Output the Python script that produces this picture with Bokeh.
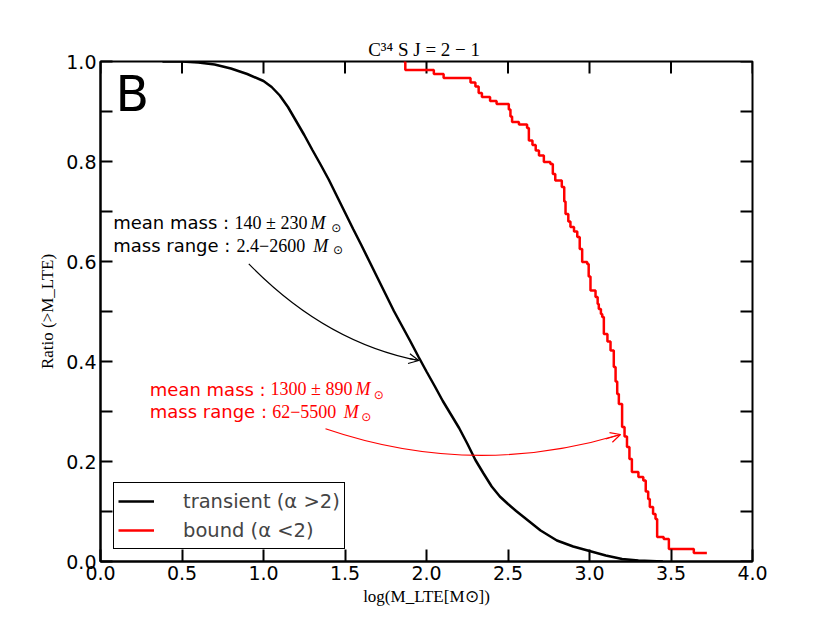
from bokeh.plotting import figure
from bokeh.models import (Range1d, FixedTicker, Legend, LegendItem, Label, Arrow,
                          OpenHead, PrintfTickFormatter, Title)
from bokeh.embed import file_html
from bokeh.resources import INLINE

# ---------------- data ----------------
black_x = [0.38, 0.50, 0.60, 0.70, 0.80, 0.90, 1.00, 1.05, 1.10, 1.15, 1.20, 1.25,
           1.30, 1.35, 1.40, 1.45, 1.50, 1.55, 1.60, 1.65, 1.70, 1.75, 1.80, 1.85,
           1.90, 1.95, 2.00, 2.05, 2.10, 2.15, 2.20, 2.25, 2.30, 2.35, 2.40, 2.45,
           2.50, 2.55, 2.60, 2.70, 2.80, 2.90, 3.00, 3.10, 3.20, 3.30, 3.45]
black_y = [1.000, 1.000, 0.998, 0.994, 0.986, 0.975, 0.961, 0.949, 0.932, 0.909, 0.881, 0.853,
           0.823, 0.794, 0.764, 0.731, 0.698, 0.665, 0.633, 0.600, 0.567, 0.534, 0.501, 0.471,
           0.441, 0.410, 0.380, 0.351, 0.321, 0.294, 0.267, 0.236, 0.203, 0.176, 0.150, 0.130,
           0.115, 0.101, 0.088, 0.062, 0.042, 0.030, 0.021, 0.012, 0.005, 0.002, 0.000]

red_x = [1.860, 1.870, 2.045, 2.105, 2.270, 2.300, 2.320, 2.340, 2.390, 2.430,
         2.505, 2.515, 2.525, 2.567, 2.617, 2.628, 2.650, 2.670, 2.690, 2.720,
         2.760, 2.775, 2.790, 2.830, 2.845, 2.853, 2.870, 2.883, 2.905, 2.925,
         2.940, 2.955, 2.986, 2.995, 3.006, 3.037, 3.050, 3.057, 3.070, 3.078,
         3.088, 3.110, 3.129, 3.149, 3.160, 3.170, 3.180, 3.200, 3.215, 3.230,
         3.245, 3.260, 3.300, 3.330, 3.345, 3.360, 3.370, 3.390, 3.405, 3.415,
         3.455, 3.487, 3.640, 3.720]
red_y = [1.000, 0.983, 0.975, 0.967, 0.958, 0.950, 0.937, 0.929, 0.921, 0.915,
         0.904, 0.890, 0.879, 0.874, 0.867, 0.842, 0.833, 0.822, 0.812, 0.799,
         0.795, 0.775, 0.762, 0.749, 0.720, 0.695, 0.680, 0.669, 0.660, 0.649,
         0.625, 0.599, 0.595, 0.570, 0.542, 0.529, 0.515, 0.505, 0.495, 0.489,
         0.455, 0.440, 0.422, 0.389, 0.360, 0.335, 0.315, 0.269, 0.250, 0.229,
         0.205, 0.179, 0.169, 0.162, 0.140, 0.125, 0.109, 0.095, 0.085, 0.049,
         0.045, 0.025, 0.017, 0.017]

x_ticks = [0.0, 0.5, 1.0, 1.5, 2.0, 2.5, 3.0, 3.5, 4.0]
y_ticks = [0.0, 0.2, 0.4, 0.6, 0.8, 1.0]
y_minor_ticks = [0.1, 0.3, 0.5, 0.7, 0.9]
series_names = ["transient (\u03b1 >2)", "bound (\u03b1 <2)"]
series_colors = ["#000000", "#ff0000"]
panel_letter = "B"
title_text = "C\u00b3\u2074 S  J = 2 \u2212 1"
x_label = "log(M_LTE[M\u2299])"
y_label = "Ratio (>M_LTE)"
black_note = [("mean mass :", "140 \u00b1 230"), ("mass range :", "2.4\u22122600")]
red_note = [("mean mass :", "1300 \u00b1 890"), ("mass range :", "62\u22125500")]

# ---------------- layout helpers (reference pixel -> data) ----------------
FX0, FX1, FY0, FY1 = 100.0, 752.0, 561.0, 61.0
def X(px):
    return (px - FX0) / (FX1 - FX0) * 4.0
def Y(py):
    return (FY0 - py) / (FY0 - FY1) * 1.0

W, H = 822, 615
p = figure(width=W, height=H, x_range=Range1d(0, 4), y_range=Range1d(0, 1),
           output_backend="svg", toolbar_location=None,
           min_border_left=100, min_border_right=W - 752,
           min_border_top=61, min_border_bottom=H - 561)
p.xgrid.visible = False
p.ygrid.visible = False
p.outline_line_color = "black"
p.outline_line_width = 2
p.background_fill_color = "white"
p.border_fill_color = "white"

SERIF = "Liberation Serif"

def style_axis(ax):
    ax.axis_line_width = 2
    ax.axis_line_color = "black"
    ax.major_tick_in = 12
    ax.major_tick_out = 0
    ax.minor_tick_in = 12
    ax.minor_tick_out = 0
    ax.major_tick_line_width = 2
    ax.minor_tick_line_width = 2
    ax.major_tick_line_color = "black"
    ax.minor_tick_line_color = "black"
    ax.major_label_text_font = "DejaVu Sans"
    ax.major_label_text_color = "black"
    ax.major_label_text_font_size = "19px"
    ax.major_label_standoff = 4
    ax.formatter = PrintfTickFormatter(format="%.1f")
    ax.axis_label_text_font = SERIF
    ax.axis_label_text_font_size = "17px"
    ax.axis_label_text_font_style = "normal"
    ax.axis_label_text_color = "black"

p.xaxis[0].ticker = FixedTicker(ticks=x_ticks, minor_ticks=[])
p.yaxis[0].ticker = FixedTicker(ticks=y_ticks, minor_ticks=y_minor_ticks)
style_axis(p.xaxis[0])
style_axis(p.yaxis[0])
p.xaxis[0].axis_label = x_label
p.yaxis[0].axis_label = y_label
p.xaxis[0].axis_label_standoff = 4
p.yaxis[0].axis_label_standoff = 6

p.add_layout(Title(text=title_text, align="center", text_font=SERIF, text_font_size="19px",
                   text_font_style="normal", text_color="black", standoff=4), "above")

# inward ticks on top and right edges (mirroring the bottom / left tickers)
tick_len_y = 12.0 / (FY0 - FY1)
tick_len_x = 12.0 / (FX1 - FX0) * 4.0
all_y = y_ticks + y_minor_ticks
p.segment(x0=x_ticks, y0=[1.0] * len(x_ticks), x1=x_ticks, y1=[1.0 - tick_len_y] * len(x_ticks),
          line_color="black", line_width=2)
p.segment(x0=[4.0] * len(all_y), y0=all_y, x1=[4.0 - tick_len_x] * len(all_y), y1=all_y,
          line_color="black", line_width=2)

# ---------------- curves ----------------
r_black = p.line(black_x, black_y, line_color=series_colors[0], line_width=2.5)
r_red = p.step(red_x, red_y, mode="after", line_color=series_colors[1], line_width=2.5)

legend = Legend(items=[LegendItem(label=series_names[0], renderers=[r_black]),
                       LegendItem(label=series_names[1], renderers=[r_red])],
                location=(13, 12), margin=0, padding=4, spacing=1,
                glyph_width=36, glyph_height=28, label_height=28, label_standoff=29,
                label_text_font="DejaVu Sans", label_text_font_size="19.5px",
                border_line_color="black", border_line_width=1, border_line_alpha=1.0,
                background_fill_color="white", background_fill_alpha=1.0)
p.add_layout(legend)

# ---------------- text helper ----------------
def put(text, px, py, font="DejaVu Sans", size=17.0, color="black", style="normal",
        align="left", baseline="alphabetic"):
    if baseline == "alphabetic":
        py -= 0.35 * size  # compensate the renderer's baseline placement
    elif baseline == "middle":
        py -= 0.2 * size
    p.add_layout(Label(x=X(px), y=Y(py), text=text, text_font=font,
                       text_font_size="%gpx" % size,
                       text_color=color, text_font_style=style, text_align=align,
                       text_baseline=baseline))

# panel letter
put(panel_letter, 115, 111, size=49)

# annotations
def note(lines, color, x0, rows):
    for (lab, num), (bl, numx, mx, sx, sy) in zip(lines, rows):
        put(lab, x0, bl, size=18, color=color)
        put(num, numx, bl, font=SERIF, size=18, color=color)
        put("M", mx, bl, font=SERIF, size=18, color=color, style="italic")
        put("\u2299", sx, sy, font="DejaVu Sans", size=12, color=color,
            align="center", baseline="middle")

note(black_note, "black", 112.7, [(228.3, 234, 310, 335.8, 230.0),
                                  (251.7, 236, 312.7, 337.5, 252.3)])
note(red_note, "red", 149.3, [(395.0, 270, 355, 378.3, 396.7),
                              (417.3, 271.7, 343.3, 365.8, 419.2)])

# curved arrows (quadratic curves + open heads)
p.quadratic(x0=[X(248.3)], y0=[Y(263.3)], x1=[X(418.3)], y1=[Y(360)],
            cx=[X(325)], cy=[Y(342)], line_color="black", line_width=1.2)
p.add_layout(Arrow(end=OpenHead(size=10, line_color="black", line_width=1.2),
                   x_start=X(409), y_start=Y(358.2), x_end=X(418.3), y_end=Y(360),
                   line_color="black", line_width=1.2))
p.quadratic(x0=[X(325)], y0=[Y(428.3)], x1=[X(620)], y1=[Y(434)],
            cx=[X(471.5)], cy=[Y(478.5)], line_color="red", line_width=1.2)
p.add_layout(Arrow(end=OpenHead(size=10, line_color="red", line_width=1.2),
                   x_start=X(605.2), y_start=Y(438.5), x_end=X(620), y_end=Y(434),
                   line_color="red", line_width=1.2))

open("out.html", "w").write(file_html(p, INLINE))
